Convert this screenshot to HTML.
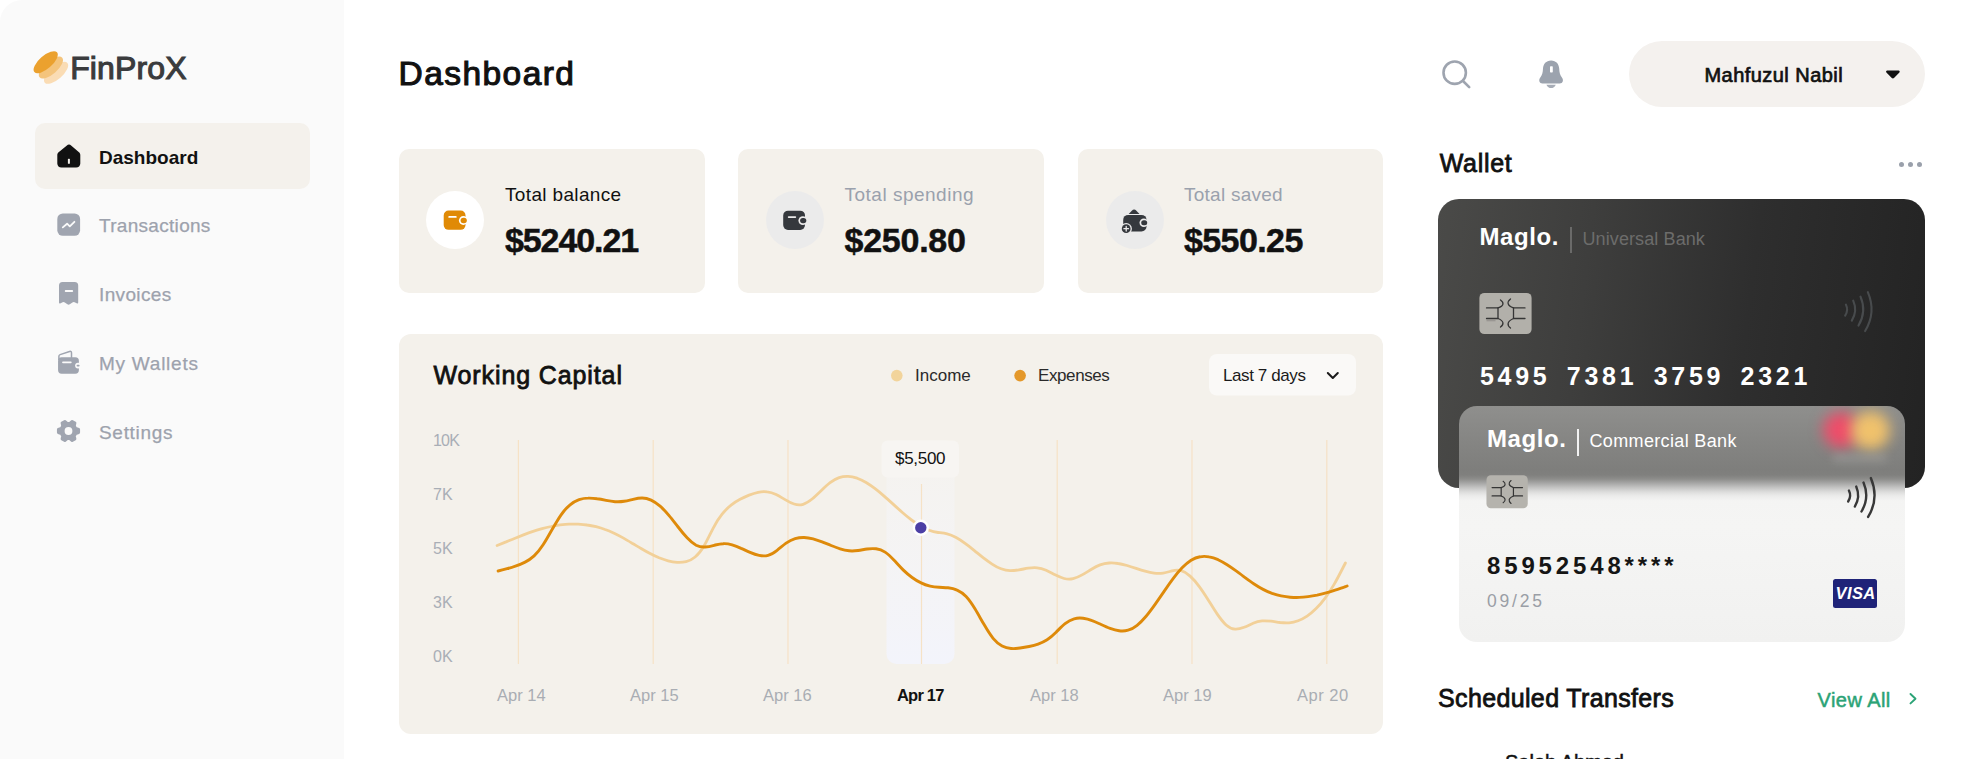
<!DOCTYPE html>
<html lang="en">
<head>
<meta charset="utf-8">
<title>FinProX Dashboard</title>
<style>
*{box-sizing:border-box;margin:0;padding:0}
html,body{width:1980px;height:759px;overflow:hidden;background:#fff}
body{position:relative;font-family:"Liberation Sans",sans-serif;color:#1b1b1b}
.abs{position:absolute}
.t{position:absolute;white-space:nowrap;line-height:1}
#side{left:0;top:0;width:344px;height:759px;background:#fafafa;border-top-left-radius:22px}
.nav-active{left:35px;top:122.500px;width:274.500px;height:66px;border-radius:10px;background:#f4f1ec}
.nav{color:#9da2ad;font-size:19px;-webkit-text-stroke:0.250px #9da2ad}
.card{background:#f4f1eb;border-radius:10px}
.stat-l{font-size:19px}
.stat-v{font-size:34px;font-weight:700;color:#111;-webkit-text-stroke:0.500px #111}
.gray{color:#9aa1ad}
.ax{font-size:16px;color:#a9aeb6;letter-spacing:-0.8px}
.lg{font-size:17px;color:#2a2a2a}
.xl{font-size:16.5px;color:#a9adb3}
</style>
</head>
<body>
<!-- SIDEBAR -->
<div id="side" class="abs"></div>
<svg class="abs" style="left:28px;top:44px" width="46" height="46" viewBox="28 44 46 46">
  <ellipse cx="56.100" cy="72.800" rx="15" ry="6.500" fill="#fadcb4" transform="rotate(-41 56.100 72.800)"/>
  <ellipse cx="50.900" cy="67.500" rx="15" ry="6.500" fill="#f4c47c" transform="rotate(-41 50.900 67.500)"/>
  <ellipse cx="45.700" cy="62.200" rx="15" ry="6.500" fill="#eba12e" transform="rotate(-41 45.700 62.200)"/>
</svg>
<div class="t" id="logo" style="left:70.200px;top:52px;font-size:32px;color:#3a3b3d;letter-spacing:0.130px;-webkit-text-stroke:1.100px #3a3b3d">FinProX</div>

<div class="abs nav-active"></div>
<div class="t" id="n1" style="left:99px;top:147.500px;font-size:19px;font-weight:700;color:#111">Dashboard</div>
<div class="t nav" id="n2" style="left:99px;top:216px;letter-spacing:0.300px">Transactions</div>
<div class="t nav" id="n3" style="left:99px;top:285px;letter-spacing:0.350px">Invoices</div>
<div class="t nav" id="n4" style="left:99px;top:354px;letter-spacing:0.750px">My Wallets</div>
<div class="t nav" id="n5" style="left:99px;top:423px;letter-spacing:0.700px">Settings</div>

<!-- HEADER -->
<div class="t" id="title" style="left:398.500px;top:57.200px;font-size:33.500px;color:#111;letter-spacing:1.450px;-webkit-text-stroke:1.100px #111">Dashboard</div>
<div class="abs" id="pill" style="left:1629px;top:41px;width:296px;height:66px;border-radius:33px;background:#f4f1ee"></div>
<div class="t" id="uname" style="left:1704.500px;top:64.600px;font-size:20px;color:#111;letter-spacing:0.450px;-webkit-text-stroke:0.700px #111">Mahfuzul Nabil</div>

<!-- STAT CARDS -->
<div class="abs card" style="left:399px;top:148.500px;width:305.500px;height:144px"></div>
<div class="abs card" style="left:738px;top:148.500px;width:306px;height:144px"></div>
<div class="abs card" style="left:1078px;top:148.500px;width:304.500px;height:144px"></div>
<div class="abs" style="left:426px;top:191px;width:58px;height:58px;border-radius:50%;background:#fff"></div>
<div class="abs" style="left:766px;top:191px;width:58px;height:58px;border-radius:50%;background:#ebebeb"></div>
<div class="abs" style="left:1106px;top:191px;width:57.500px;height:58px;border-radius:50%;background:#ebebeb"></div>
<div class="t stat-l" id="s1l" style="left:505px;top:184.600px;color:#111;letter-spacing:0.350px">Total balance</div>
<div class="t stat-v" id="s1v" style="left:505px;top:222.500px;letter-spacing:-1.100px">$5240.21</div>
<div class="t stat-l gray" id="s2l" style="left:844.500px;top:184.600px;letter-spacing:0.500px">Total spending</div>
<div class="t stat-v" id="s2v" style="left:844.500px;top:222.500px;letter-spacing:-0.250px">$250.80</div>
<div class="t stat-l gray" id="s3l" style="left:1184px;top:184.600px;letter-spacing:0.250px">Total saved</div>
<div class="t stat-v" id="s3v" style="left:1184px;top:222.500px;letter-spacing:-0.600px">$550.25</div>

<!-- CHART -->
<div class="abs card" style="left:399px;top:334px;width:983.500px;height:399.500px;border-radius:12px"></div>
<svg class="abs" id="chart" style="left:399px;top:334px" width="984" height="399" viewBox="399 334 984 399">
  <defs>
    <linearGradient id="hl" x1="0" y1="0" x2="0" y2="1"><stop offset="0" stop-color="#f6f6f8" stop-opacity="0.250"/><stop offset="1" stop-color="#f3f4fb" stop-opacity="1"/></linearGradient>
  </defs>
  <rect x="886.5" y="440" width="68" height="224" rx="10" fill="url(#hl)"/>
  <g stroke="#f6e2c6" stroke-width="1.2">
    <line x1="518.4" y1="440" x2="518.4" y2="664"/><line x1="653.2" y1="440" x2="653.2" y2="664"/><line x1="788" y1="440" x2="788" y2="664"/>
    <line x1="921.5" y1="484" x2="921.5" y2="664"/><line x1="1057.2" y1="440" x2="1057.2" y2="664"/><line x1="1192" y1="440" x2="1192" y2="664"/><line x1="1326.8" y1="440" x2="1326.8" y2="664"/>
  </g>
  <path d="M497.1 545.5C500.1 544.3 503.1 543.1 506.1 541.9C509.1 540.6 512.1 539.4 515.1 538.2C518.1 537.0 521.1 535.8 524.1 534.6C527.1 533.5 530.1 532.4 533.1 531.4C536.1 530.4 539.1 529.5 542.1 528.6C545.1 527.8 548.1 527.1 551.1 526.5C554.1 525.8 557.1 525.3 560.1 524.9C563.1 524.6 566.1 524.3 569.1 524.1C572.1 524.0 575.1 524.0 578.1 524.1C581.1 524.3 584.1 524.5 587.1 525.0C590.1 525.4 593.1 526.0 596.1 526.7C599.1 527.5 602.1 528.4 605.1 529.5C608.1 530.5 611.1 531.8 614.1 533.2C617.1 534.6 620.1 536.2 623.1 537.9C626.1 539.6 629.1 541.4 632.1 543.2C635.1 544.9 638.1 546.8 641.1 548.5C644.1 550.3 647.1 552.0 650.1 553.5C653.1 555.1 656.1 556.5 659.1 557.8C662.1 559.0 665.1 560.1 668.1 560.8C671.1 561.6 674.1 562.1 677.1 562.3C680.1 562.5 683.1 562.3 686.1 561.6C689.1 560.9 692.1 559.5 695.1 557.0C698.1 554.6 701.1 551.0 704.1 545.8C707.1 540.7 710.1 534.0 713.1 528.3C716.1 522.5 719.1 517.9 722.1 514.2C725.1 510.4 728.1 507.5 731.1 505.1C734.1 502.7 737.1 500.9 740.1 499.3C743.1 497.7 746.1 496.3 749.1 495.1C752.1 493.9 755.1 492.9 758.1 492.3C761.1 491.7 764.1 491.5 767.1 491.9C770.1 492.2 773.1 493.1 776.1 494.5C779.1 496.0 782.1 497.9 785.1 499.6C788.1 501.4 791.1 503.1 794.1 504.0C797.1 505.0 800.1 505.2 803.1 504.3C806.1 503.4 809.1 501.4 812.1 499.0C815.1 496.5 818.1 493.6 821.1 490.7C824.1 487.8 827.1 484.9 830.1 482.6C833.1 480.3 836.1 478.6 839.1 477.6C842.1 476.6 845.1 476.3 848.1 476.4C851.1 476.5 854.1 477.2 857.1 478.2C860.1 479.3 863.1 480.8 866.1 482.5C869.1 484.3 872.1 486.4 875.1 488.7C878.1 491.0 881.1 493.5 884.1 496.1C887.1 498.7 890.1 501.4 893.1 504.1C896.1 506.9 899.1 509.6 902.1 512.2C905.1 514.8 908.1 517.3 911.1 519.6C914.1 521.8 917.1 524.0 920.1 525.8C923.1 527.6 926.1 529.1 929.1 530.3C932.1 531.4 935.1 532.1 938.1 532.5C941.1 532.9 944.1 533.2 947.1 533.9C950.1 534.6 953.1 535.9 956.1 537.5C959.1 539.1 962.1 541.1 965.1 543.4C968.1 545.6 971.1 548.0 974.1 550.4C977.1 552.9 980.1 555.3 983.1 557.7C986.1 560.0 989.1 562.2 992.1 564.1C995.1 566.1 998.1 567.7 1001.1 568.8C1004.1 569.9 1007.1 570.6 1010.1 570.7C1013.1 570.7 1016.1 570.4 1019.1 569.8C1022.1 569.3 1025.1 568.7 1028.1 568.2C1031.1 567.8 1034.1 567.5 1037.1 567.8C1040.1 568.1 1043.1 569.0 1046.1 570.3C1049.1 571.7 1052.1 573.3 1055.1 574.8C1058.1 576.3 1061.1 577.7 1064.1 578.5C1067.1 579.3 1070.1 579.4 1073.1 578.7C1076.1 578.0 1079.1 576.6 1082.1 574.9C1085.1 573.2 1088.1 571.3 1091.1 569.5C1094.1 567.7 1097.1 566.0 1100.1 564.9C1103.1 563.8 1106.1 563.2 1109.1 563.0C1112.1 562.8 1115.1 563.0 1118.1 563.5C1121.1 563.9 1124.1 564.7 1127.1 565.5C1130.1 566.4 1133.1 567.4 1136.1 568.4C1139.1 569.4 1142.1 570.4 1145.1 571.2C1148.1 572.0 1151.1 572.7 1154.1 573.1C1157.1 573.5 1160.1 573.5 1163.1 573.1C1166.1 572.7 1169.1 571.7 1172.1 570.9C1175.1 570.1 1178.1 569.8 1181.1 570.7C1184.1 571.5 1187.1 573.4 1190.1 576.1C1193.1 578.8 1196.1 582.3 1199.1 586.3C1202.1 590.3 1205.1 594.9 1208.1 599.7C1211.1 604.5 1214.1 609.5 1217.1 613.9C1220.1 618.3 1223.1 622.2 1226.1 625.0C1229.1 627.7 1232.1 629.0 1235.1 629.2C1238.1 629.4 1241.1 628.5 1244.1 627.3C1247.1 626.1 1250.1 624.6 1253.1 623.3C1256.1 622.0 1259.1 621.2 1262.1 620.9C1265.1 620.6 1268.1 620.9 1271.1 621.2C1274.1 621.6 1277.1 622.1 1280.1 622.5C1283.1 622.8 1286.1 623.0 1289.1 622.8C1292.1 622.5 1295.1 621.8 1298.1 620.7C1301.1 619.6 1304.1 618.1 1307.1 616.1C1310.1 614.1 1313.1 611.6 1316.1 608.6C1319.1 605.6 1322.1 602.1 1325.1 598.1C1328.1 594.1 1331.1 589.5 1334.1 584.4C1337.1 579.2 1340.1 573.4 1343.1 567.5C1343.9 566.0 1344.6 564.5 1345.4 563.0" fill="none" stroke="#f2d098" stroke-width="2.800" stroke-linecap="round" stroke-linejoin="round"/>
  <path d="M498.1 571.0C501.1 570.4 504.1 569.6 507.1 568.7C510.1 567.9 513.1 566.9 516.1 565.8C519.1 564.8 522.1 563.6 525.1 562.1C528.1 560.6 531.1 558.7 534.1 555.9C537.1 553.1 540.1 549.4 543.1 544.8C546.1 540.2 549.1 534.8 552.1 529.5C555.1 524.3 558.1 519.1 561.1 514.8C564.1 510.5 567.1 507.2 570.1 504.8C573.1 502.3 576.1 500.7 579.1 499.6C582.1 498.6 585.1 498.1 588.1 498.1C591.1 498.0 594.1 498.3 597.1 498.8C600.1 499.2 603.1 499.8 606.1 500.4C609.1 501.0 612.1 501.5 615.1 501.7C618.1 501.9 621.1 501.8 624.1 501.3C627.1 500.8 630.1 500.0 633.1 499.3C636.1 498.6 639.1 498.0 642.1 498.0C645.1 498.0 648.1 498.7 651.1 500.1C654.1 501.5 657.1 503.6 660.1 506.2C663.1 508.8 666.1 512.0 669.1 515.6C672.1 519.2 675.1 523.2 678.1 527.0C681.1 530.9 684.1 534.6 687.1 537.8C690.1 541.0 693.1 543.6 696.1 545.2C699.1 546.7 702.1 547.2 705.1 547.0C708.1 546.8 711.1 546.1 714.1 545.3C717.1 544.6 720.1 543.8 723.1 543.7C726.1 543.5 729.1 544.0 732.1 544.9C735.1 545.8 738.1 547.0 741.1 548.4C744.1 549.7 747.1 551.1 750.1 552.4C753.1 553.7 756.1 554.8 759.1 555.4C762.1 556.0 765.1 556.2 768.1 555.3C771.1 554.5 774.1 552.6 777.1 550.3C780.1 548.0 783.1 545.4 786.1 543.2C789.1 541.1 792.1 539.6 795.1 538.7C798.1 537.8 801.1 537.4 804.1 537.5C807.1 537.6 810.1 538.1 813.1 538.8C816.1 539.6 819.1 540.7 822.1 541.8C825.1 543.0 828.1 544.3 831.1 545.5C834.1 546.7 837.1 547.9 840.1 548.8C843.1 549.8 846.1 550.5 849.1 550.8C852.1 551.1 855.1 550.9 858.1 550.5C861.1 550.1 864.1 549.4 867.1 549.0C870.1 548.6 873.1 548.4 876.1 548.8C879.1 549.2 882.1 550.2 885.1 552.1C888.1 554.1 891.1 557.1 894.1 560.3C897.1 563.5 900.1 566.9 903.1 569.9C906.1 572.8 909.1 575.4 912.1 577.5C915.1 579.7 918.1 581.5 921.1 582.9C924.1 584.4 927.1 585.4 930.1 586.1C933.1 586.9 936.1 587.2 939.1 587.3C942.1 587.5 945.1 587.5 948.1 587.8C951.1 588.1 954.1 588.7 957.1 590.1C960.1 591.4 963.1 593.4 966.1 596.6C969.1 599.8 972.1 604.2 975.1 609.1C978.1 614.1 981.1 619.5 984.1 624.6C987.1 629.8 990.1 634.6 993.1 638.3C996.1 641.9 999.1 644.4 1002.1 646.0C1005.1 647.6 1008.1 648.3 1011.1 648.5C1014.1 648.8 1017.1 648.5 1020.1 648.0C1023.1 647.6 1026.1 647.1 1029.1 646.5C1032.1 645.9 1035.1 645.2 1038.1 644.1C1041.1 643.0 1044.1 641.6 1047.1 639.7C1050.1 637.8 1053.1 635.2 1056.1 632.2C1059.1 629.2 1062.1 626.0 1065.1 623.6C1068.1 621.2 1071.1 619.6 1074.1 618.8C1077.1 618.0 1080.1 617.9 1083.1 618.3C1086.1 618.7 1089.1 619.5 1092.1 620.7C1095.1 621.8 1098.1 623.2 1101.1 624.5C1104.1 625.9 1107.1 627.3 1110.1 628.4C1113.1 629.5 1116.1 630.4 1119.1 630.8C1122.1 631.2 1125.1 631.1 1128.1 630.2C1131.1 629.4 1134.1 627.7 1137.1 625.3C1140.1 622.9 1143.1 619.7 1146.1 616.2C1149.1 612.6 1152.1 608.5 1155.1 604.3C1158.1 600.0 1161.1 595.6 1164.1 591.3C1167.1 586.9 1170.1 582.6 1173.1 578.6C1176.1 574.6 1179.1 571.0 1182.1 567.8C1185.1 564.7 1188.1 562.1 1191.1 560.2C1194.1 558.4 1197.1 557.3 1200.1 556.8C1203.1 556.2 1206.1 556.3 1209.1 556.9C1212.1 557.4 1215.1 558.4 1218.1 559.7C1221.1 561.1 1224.1 562.8 1227.1 564.7C1230.1 566.6 1233.1 568.7 1236.1 570.9C1239.1 573.1 1242.1 575.3 1245.1 577.6C1248.1 579.8 1251.1 582.0 1254.1 584.0C1257.1 586.0 1260.1 587.9 1263.1 589.4C1266.1 591.0 1269.1 592.3 1272.1 593.4C1275.1 594.4 1278.1 595.3 1281.1 595.9C1284.1 596.5 1287.1 597.0 1290.1 597.2C1293.1 597.4 1296.1 597.5 1299.1 597.4C1302.1 597.3 1305.1 597.0 1308.1 596.6C1311.1 596.2 1314.1 595.7 1317.1 595.1C1320.1 594.4 1323.1 593.7 1326.1 592.8C1329.1 592.0 1332.1 591.1 1335.1 590.1C1338.1 589.2 1341.1 588.1 1344.1 587.1C1345.1 586.7 1346.1 586.4 1347.1 586.0" fill="none" stroke="#de8a0a" stroke-width="2.900" stroke-linecap="round" stroke-linejoin="round"/>
  <rect x="881.5" y="440.5" width="77.5" height="37" rx="6" fill="#f7f5f2"/>
  <circle cx="920.8" cy="527.8" r="8.200" fill="#fff"/>
  <circle cx="920.8" cy="527.8" r="5.700" fill="#4c3fa5"/>
  <circle cx="896.8" cy="375.6" r="5.8" fill="#f2d49b"/>
  <circle cx="1020.1" cy="375.6" r="5.8" fill="#e4982a"/>
  <rect x="1209" y="354" width="147" height="41.5" rx="8" fill="#faf9f7"/>
  <path d="M1327.8 373 L1332.8 378 L1337.8 373" fill="none" stroke="#1b1b1b" stroke-width="2" stroke-linecap="round" stroke-linejoin="round"/>
</svg>
<div class="t" id="wc" style="left:433.500px;top:362.700px;font-size:25px;color:#111;letter-spacing:0.890px;-webkit-text-stroke:0.800px #111">Working Capital</div>

<div class="t lg" id="lg1" style="left:915px;top:367px">Income</div>
<div class="t lg" id="lg2" style="left:1038px;top:367px;letter-spacing:-0.4px">Expenses</div>
<div class="t lg" id="dd" style="left:1223px;top:367px;letter-spacing:-0.4px;color:#1b1b1b">Last 7 days</div>
<div class="t ax" id="y1" style="left:433px;top:433px">10K</div>
<div class="t ax" id="y2" style="left:433px;top:487px;letter-spacing:0">7K</div>
<div class="t ax" id="y3" style="left:433px;top:541px;letter-spacing:0">5K</div>
<div class="t ax" id="y4" style="left:433px;top:595px;letter-spacing:0">3K</div>
<div class="t ax" id="y5" style="left:433px;top:649px;letter-spacing:0">0K</div>
<div class="t xl" id="x1" style="left:497px;top:687px">Apr 14</div>
<div class="t xl" id="x2" style="left:630px;top:687px">Apr 15</div>
<div class="t xl" id="x3" style="left:763px;top:687px">Apr 16</div>
<div class="t xl" id="x4" style="left:897px;top:687px;color:#111;font-weight:700;letter-spacing:-0.800px">Apr 17</div>
<div class="t xl" id="x5" style="left:1030px;top:687px">Apr 18</div>
<div class="t xl" id="x6" style="left:1163px;top:687px">Apr 19</div>
<div class="t xl" id="x7" style="left:1297px;top:687px;letter-spacing:0.500px">Apr 20</div>
<div class="t" id="tip" style="left:895px;top:450px;font-size:17px;color:#111;letter-spacing:-0.3px">$5,500</div>

<!-- WALLET -->
<div class="t" id="wl" style="left:1439.700px;top:151px;font-size:25px;color:#111;letter-spacing:0.700px;-webkit-text-stroke:0.800px #111">Wallet</div>
<div class="abs" id="dark" style="left:1438px;top:199px;width:487px;height:289px;border-radius:21px;background:linear-gradient(97deg,#4a4a48 0%,#3e3e3d 30%,#2e2e2e 62%,#232323 100%)"></div>
<div class="t" id="m1" style="left:1479.500px;top:225px;font-size:24px;font-weight:700;color:#fff;letter-spacing:0.600px">Maglo.</div>
<div class="abs" style="left:1570.300px;top:227px;width:1.300px;height:26px;background:#6a6a69"></div>
<div class="t" id="ub" style="left:1582.500px;top:230px;font-size:18px;color:#6c6c6b;letter-spacing:0.100px">Universal Bank</div>
<svg class="abs" style="left:1479px;top:292px" width="54" height="43" viewBox="0 0 54 43"><rect x="0.400" y="0.900" width="52.200" height="41.200" rx="5" fill="#b2b0aa"/><g fill="none" stroke="#353535" stroke-width="1.300" stroke-linecap="round"><path d="M7.500 15.900h11.500M7.500 26.500h11.500M19 15.900v10.600"/><path d="M46 15.900H34.500M46 26.500H34.500M34.500 15.900v10.600"/><path d="M21.500 8c3.500 2.500 3.800 6 -2.500 7.900M21.500 35c3.500-2.500 3.800-6-2.500-8.500"/><path d="M31.500 7c-3.500 2.800-3.800 6.600 3 8.900M31.500 36c-3.500-2.800-3.800-6.600 3-9.500"/></g><rect x="7.500" y="27.300" width="9" height="2" fill="#8e8c87" opacity="0.700"/></svg>
<svg class="abs" style="left:1838px;top:286px" width="42" height="50" viewBox="1838 286 42 50"><g transform="rotate(4 1858 311)" fill="none" stroke="#484b4d" stroke-width="2.100" stroke-linecap="round"><path d="M1845.500 305.500q3.200 5.500 0 11"/><path d="M1852.500 301q5.200 10 0 20"/><path d="M1859.500 296.500q7.400 14.500 0 29"/><path d="M1866.500 291.500q10 19.500 0 39"/></g></svg>
<div class="t" id="num1" style="left:1480px;top:364.300px;font-size:25px;font-weight:700;color:#fff;letter-spacing:3.700px;word-spacing:5.800px">5495 7381 3759 2321</div>

<div class="abs" id="light" style="left:1459px;top:405.500px;width:445.500px;height:236px;border-radius:18px;overflow:hidden;background:linear-gradient(180deg,#8f8f8d 0,#858583 36px,#7e7e7c 64px,#80807e 69px,#8d8d8b 73px,#a9a9a8 77.500px,#c6c6c5 82px,#dddddc 86px,#ececeb 90px,#f4f4f3 95px,#f5f5f4 120px,#f3f3f2 180px,#f1f1f0 236px)">
  <div class="abs" style="left:363.500px;top:6.500px;width:36px;height:36px;border-radius:50%;background:#ee4d6a;filter:blur(7px)"></div>
  <div class="abs" style="left:392px;top:5.500px;width:39px;height:39px;border-radius:50%;background:#f6c56b;filter:blur(7px);opacity:.95"></div>
  <div class="abs" style="left:374px;top:48px;width:54px;height:8px;background:#a2a2a0;filter:blur(4px);opacity:.55"></div>
</div>
<div class="t" id="m2" style="left:1487px;top:427px;font-size:24px;font-weight:700;color:#fff;letter-spacing:0.600px">Maglo.</div>
<div class="abs" style="left:1577.300px;top:429px;width:1.400px;height:27px;background:#f2f2f2"></div>
<div class="t" id="cb" style="left:1589.500px;top:432px;font-size:18px;color:#fff;letter-spacing:0.350px">Commercial Bank</div>
<svg class="abs" style="left:1486px;top:475px" width="43" height="34" viewBox="0 0 54 43"><rect x="0.400" y="0.400" width="52.200" height="41.600" rx="5.500" fill="#b5b3ad"/><g fill="none" stroke="#353535" stroke-width="1.500" stroke-linecap="round"><path d="M7.500 15.900h11.500M7.500 26.500h11.500M19 15.900v10.600"/><path d="M46 15.900H34.500M46 26.500H34.500M34.500 15.900v10.600"/><path d="M21.500 8c3.500 2.500 3.800 6 -2.500 7.900M21.500 35c3.500-2.500 3.800-6-2.500-8.500"/><path d="M31.500 7c-3.500 2.800-3.800 6.600 3 8.900M31.500 36c-3.500-2.800-3.800-6.600 3-9.500"/></g></svg>
<svg class="abs" style="left:1840px;top:472px" width="44" height="50" viewBox="1840 472 44 50"><g transform="rotate(4 1862 497)" fill="none" stroke="#383838" stroke-width="2.400" stroke-linecap="round"><path d="M1848.500 491.500q3.200 5.500 0 11"/><path d="M1855.500 487q5.200 10 0 20"/><path d="M1862.500 482.500q7.400 14.500 0 29"/><path d="M1869.500 477.500q10 19.500 0 39"/></g></svg>
<div class="t" id="num2" style="left:1487px;top:553.500px;font-size:24px;font-weight:700;color:#151515;letter-spacing:3.850px">85952548****</div>
<div class="t" id="expd" style="left:1487px;top:593px;font-size:17.500px;color:#9a9ea6;letter-spacing:2.800px">09/25</div>
<div class="abs" style="left:1833px;top:579px;width:44px;height:29px;border-radius:2.500px;background:#1f2378"></div>
<div class="t" id="visa" style="left:1835.500px;top:585px;font-size:16.500px;font-weight:700;font-style:italic;color:#fff;letter-spacing:0.400px">VISA</div>
<div class="abs" style="left:1898.500px;top:161.500px;width:5px;height:5px;border-radius:50%;background:#9aa0ab"></div>
<div class="abs" style="left:1907.500px;top:161.500px;width:5px;height:5px;border-radius:50%;background:#9aa0ab"></div>
<div class="abs" style="left:1916.500px;top:161.500px;width:5px;height:5px;border-radius:50%;background:#9aa0ab"></div>
<div class="t" id="va" style="left:1817.500px;top:689.500px;font-size:20px;color:#2ba376;letter-spacing:0.450px;-webkit-text-stroke:0.500px #2ba376">View All</div>
<svg class="abs" style="left:1905px;top:690px" width="16" height="18" viewBox="1905 690 16 18"><path d="M1910.500 694l5 4.700-5 4.700" fill="none" stroke="#2ba376" stroke-width="1.900" stroke-linecap="round" stroke-linejoin="round"/></svg>
<div class="t" id="sa" style="left:1505px;top:751.500px;font-size:20px;color:#111;-webkit-text-stroke:0.500px #111">Saleh Ahmed</div>
<div class="t" id="st" style="left:1438px;top:686px;font-size:25px;color:#111;letter-spacing:0.360px;-webkit-text-stroke:0.800px #111">Scheduled Transfers</div>
<!-- NAV ICONS -->
<svg class="abs" style="left:57px;top:144px" width="24" height="24" viewBox="0 0 24 24"><path d="M12 0.6c-.8 0-1.5.3-2.100.8L1.600 8.200C.800 8.900.300 9.900.300 11v8.500c0 2.300 1.800 4.100 4.100 4.100h14.800c2.300 0 4.100-1.800 4.100-4.100V11c0-1.100-.5-2.100-1.300-2.800L14.100 1.400C13.500.9 12.800.6 12 .6z" fill="#111"/><rect x="10.900" y="14.800" width="2" height="5" rx="0.600" fill="#f4f1ec"/></svg>
<svg class="abs" style="left:57px;top:213px" width="24" height="24" viewBox="0 0 24 24"><rect x="0.300" y="0.400" width="22.800" height="22.400" rx="5.500" fill="#a0a5b0"/><path d="M5.800 14.400l4.300-3.700 2.700 2.700 4.600-4.600" fill="none" stroke="#fafafa" stroke-width="1.800" stroke-linecap="round" stroke-linejoin="round"/></svg>
<svg class="abs" style="left:52px;top:276px" width="34" height="34" viewBox="52 276 34 34"><path d="M59 285.500A3.500 3.500 0 0 1 62.500 282H74.700A3.500 3.500 0 0 1 78.200 285.500V302.500Q78.200 303.700 77.100 303.400L74.600 302.200Q73.400 301.600 72.400 302.400L69.800 304.300Q68.600 305.100 67.400 304.300L64.800 302.400Q63.800 301.600 62.600 302.200L60.100 303.400Q59 303.700 59 302.500Z" fill="#a0a5b0"/><rect x="64.800" y="290.100" width="8.300" height="2" rx="0.800" fill="#fafafa"/></svg>
<svg class="abs" style="left:52px;top:345px" width="34" height="34" viewBox="52 345 34 34"><path d="M58.900 360V356.300Q58.900 355 60.100 354.600L69.600 351.500Q71.500 350.900 71.500 352.900V358" fill="none" stroke="#a0a5b0" stroke-width="1.500"/><rect x="58.050" y="357.300" width="20.850" height="16.400" rx="3.600" fill="#a0a5b0"/><rect x="62.100" y="361.400" width="9.600" height="1.800" rx="0.900" fill="#fafafa"/><circle cx="78" cy="365.600" r="2.900" fill="#fafafa"/><rect x="76.600" y="364.700" width="3" height="1.800" rx="0.900" fill="#a0a5b0"/></svg>
<svg class="abs" style="left:56px;top:419px" width="25" height="24" viewBox="-12.500 -12 25 24"><path d="M7.24 -2.63L10.17 -1.61L10.17 1.61L7.24 2.63L5.90 4.95L6.48 8.00L3.69 9.62L1.34 7.58L-1.34 7.58L-3.69 9.62L-6.48 8.00L-5.90 4.95L-7.24 2.63L-10.17 1.61L-10.17 -1.61L-7.24 -2.63L-5.90 -4.95L-6.48 -8.00L-3.69 -9.62L-1.34 -7.58L1.34 -7.58L3.69 -9.62L6.48 -8.00L5.90 -4.95ZM5.30 0A5.30 5.30 0 1 0 -5.30 0A5.30 5.30 0 1 0 5.30 0Z" fill="#a0a5b0" fill-rule="evenodd" stroke="#a0a5b0" stroke-width="2.800" stroke-linejoin="round"/></svg>
<!-- HEADER ICONS -->
<svg class="abs" style="left:1440px;top:58px" width="32" height="32" viewBox="1440 58 32 32"><circle cx="1454.700" cy="72.700" r="11.200" fill="none" stroke="#9ea4af" stroke-width="2.600"/><path d="M1463 81l6.200 6.200" stroke="#9ea4af" stroke-width="2.600" stroke-linecap="round"/></svg>
<svg class="abs" style="left:1536px;top:58px" width="30" height="32" viewBox="1536 58 30 32"><path d="M1551.100 60.400C1546 60.400 1543.300 64 1543 68.500C1542.800 72.500 1542.300 74.800 1540.300 77.500C1538.300 80.200 1539.300 83.500 1542.500 83.500H1559.700C1562.900 83.500 1563.900 80.200 1561.900 77.500C1559.900 74.800 1559.400 72.500 1559.200 68.500C1558.900 64 1556.200 60.400 1551.100 60.400Z" fill="#9ca3ae"/><path d="M1546.400 84.700H1555.800C1554.800 86.900 1553 88.100 1551.100 88.100C1549.200 88.100 1547.400 86.900 1546.400 84.700Z" fill="#a7adb7"/><rect x="1550" y="66.200" width="2.800" height="6.200" rx="0.700" fill="#fff"/></svg>
<svg class="abs" style="left:1884px;top:68px" width="18" height="12" viewBox="1884 68 18 12"><path d="M1887.200 70.600h11.400c1 0 1.500 1.200.8 1.900l-5.400 5.500c-.6.600-1.600.6-2.200 0l-5.400-5.500c-.7-.7-.2-1.900.8-1.900z" fill="#111"/></svg>
<!-- STAT ICONS -->
<svg class="abs" style="left:440px;top:206px" width="30" height="28" viewBox="440 206 30 28"><rect x="443.700" y="210.600" width="21.800" height="19.200" rx="4.800" fill="#e08a06"/><rect x="448.300" y="216.100" width="8.400" height="1.700" rx="0.850" fill="#fff"/><circle cx="463.300" cy="220.500" r="4.400" fill="#fff"/><rect x="460.600" y="217.800" width="6.200" height="5.400" rx="2.700" fill="#e08a06"/></svg>
<svg class="abs" style="left:780px;top:206px" width="30" height="28" viewBox="780 206 30 28"><rect x="783.200" y="210.700" width="21.800" height="19.200" rx="4.800" fill="#35383d"/><rect x="787.800" y="216.200" width="8.400" height="1.700" rx="0.850" fill="#ebeaea"/><circle cx="802.800" cy="220.600" r="4.400" fill="#ebeaea"/><rect x="800.100" y="217.900" width="6.200" height="5.400" rx="2.700" fill="#35383d"/></svg>
<svg class="abs" style="left:1118px;top:206px" width="32" height="30" viewBox="1118 206 32 30"><path d="M1128.700 213.900L1131.800 210.700Q1134.100 208.400 1136.400 210.700L1139.500 213.900Z" fill="#35383d"/><rect x="1123.200" y="214.900" width="23.300" height="16.600" rx="5" fill="#35383d"/><circle cx="1143.800" cy="222.800" r="4.300" fill="#ebeaea"/><rect x="1141.200" y="220.300" width="6" height="5" rx="2.500" fill="#35383d"/><circle cx="1126.200" cy="228.700" r="5.700" fill="#ebeaea"/><circle cx="1126.200" cy="228.700" r="4.400" fill="#35383d"/><path d="M1126.200 226.400v4.600M1123.900 228.700h4.600" stroke="#ebeaea" stroke-width="1.300" stroke-linecap="round"/></svg>
</body>
</html>
